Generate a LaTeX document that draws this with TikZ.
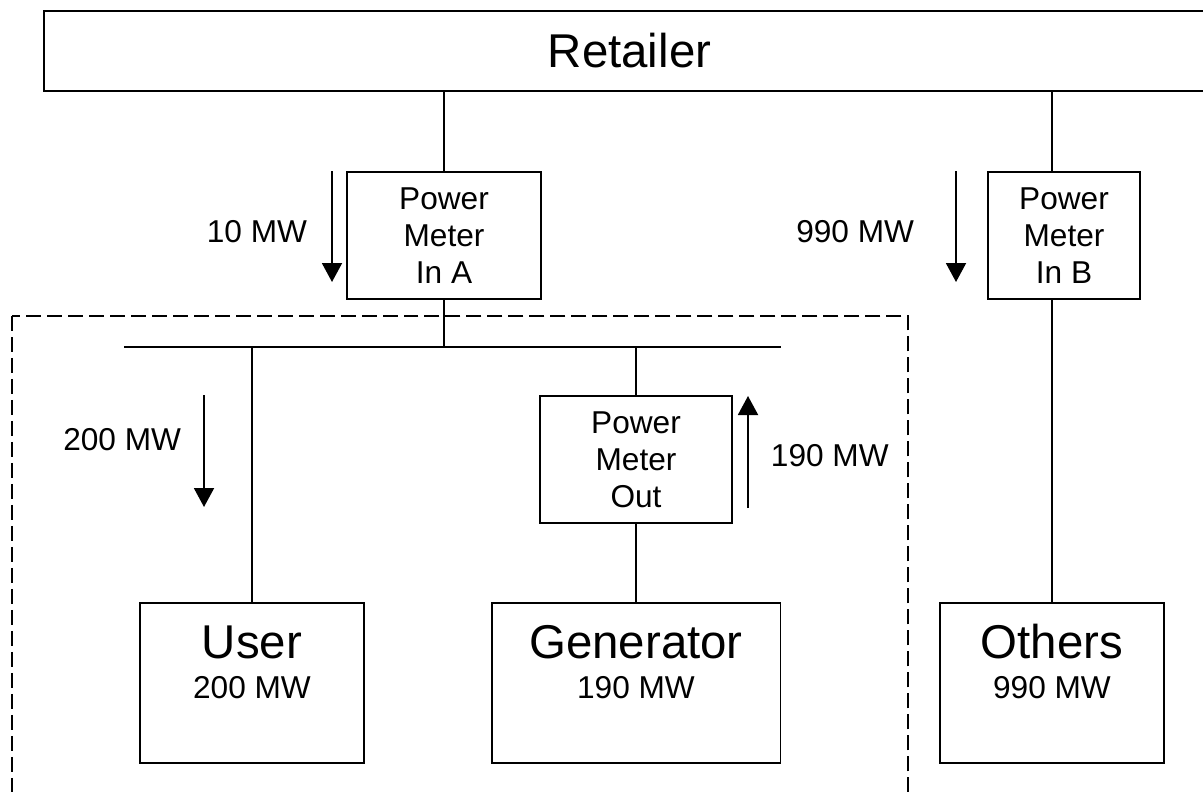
\documentclass[tikz,border=0pt]{standalone}
\usepackage{fontspec}
\setmainfont{Liberation Sans}
\usetikzlibrary{arrows.meta}
\newcommand{\MeterFont}{\fontsize{18}{21}\selectfont}
\newcommand{\BigFont}{\fontsize{27}{32}\selectfont}

\begin{document}
\begin{tikzpicture}[x=0.02cm,y=-0.02cm,line width=1.1pt,
  meterBox/.style={draw,rectangle,minimum height=2.54cm,align=center,inner sep=0pt,font=\MeterFont},
  loadBox/.style={draw,rectangle,minimum height=3.2cm,inner sep=0pt},
  loadName/.style={anchor=base,yshift=-1.12cm,inner sep=0pt,font=\BigFont},
  loadPower/.style={anchor=base,yshift=-1.92cm,inner sep=0pt,font=\MeterFont},
  flowArrow/.style={-{Triangle[length=0.38cm,width=0.4cm]}},
  flowLabel/.style={inner sep=0pt,font=\MeterFont}]
\useasboundingbox (0,0) rectangle (1203,791);

% supplier
\node[draw,rectangle,minimum width=23.42cm,minimum height=1.6cm,inner sep=0pt,font=\BigFont] (retailer) at (629.5,51) {Retailer};

% meters
\node[meterBox,minimum width=3.88cm] (meterA) at (444,235.5) {Power\\Meter\\In A};
\node[meterBox,minimum width=3.04cm] (meterB) at (1064,235.5) {Power\\Meter\\In B};
\node[meterBox,minimum width=3.84cm] (meterOut) at (636,459.5) {Power\\Meter\\Out};

% loads and generation
\node[loadBox,minimum width=4.48cm] (user) at (252,683) {};
\node[loadName] at (user.north) {User};
\node[loadPower] at (user.north) {200 MW};
\node[loadBox,minimum width=5.78cm] (gen) at (636,683) {};
\node[loadName] at (gen.north) {Generator};
\node[loadPower] at (gen.north) {190 MW};
\node[loadBox,minimum width=4.48cm] (others) at (1052,683) {};
\node[loadName] at (others.north) {Others};
\node[loadPower] at (others.north) {990 MW};

% site boundary
\draw[dash pattern=on 0.3cm off 0.12cm] (12,316) rectangle (908,820);

% busbar and feeders
\coordinate (busL) at (124,347);
\coordinate (busR) at (781,347);
\draw (busL) -- (busR);
\draw (meterA.north) -- (meterA.north |- retailer.south);
\draw (meterA.south) -- (meterA.south |- busL);
\draw (user.north) -- (user.north |- busL);
\draw (meterOut.north) -- (meterOut.north |- busL);
\draw (meterOut.south) -- (gen.north);
\draw (others.north |- meterB.north) -- (others.north |- retailer.south);
\draw (others.north) -- (others.north |- meterB.south);

% power flows
\coordinate (flowA1) at (332,171);
\coordinate (flowA2) at (332,282);
\coordinate (flowB1) at (956,171);
\coordinate (flowB2) at (956,282);
\coordinate (flowU1) at (204,395);
\coordinate (flowU2) at (204,507);
\coordinate (flowG1) at (748,508);
\coordinate (flowG2) at (748,396);
\draw[flowArrow] (flowA1) -- (flowA2) node[flowLabel,midway,anchor=east,xshift=-0.48cm,yshift=-0.1cm] {10 MW};
\draw[flowArrow] (flowB1) -- (flowB2) node[flowLabel,midway,anchor=east,xshift=-0.82cm,yshift=-0.1cm] {990 MW};
\draw[flowArrow] (flowU1) -- (flowU2) node[flowLabel,midway,anchor=east,xshift=-0.44cm,yshift=0.22cm] {200 MW};
\draw[flowArrow] (flowG1) -- (flowG2) node[flowLabel,midway,anchor=west,xshift=0.44cm,yshift=-0.08cm] {190 MW};
\end{tikzpicture}
\end{document}
